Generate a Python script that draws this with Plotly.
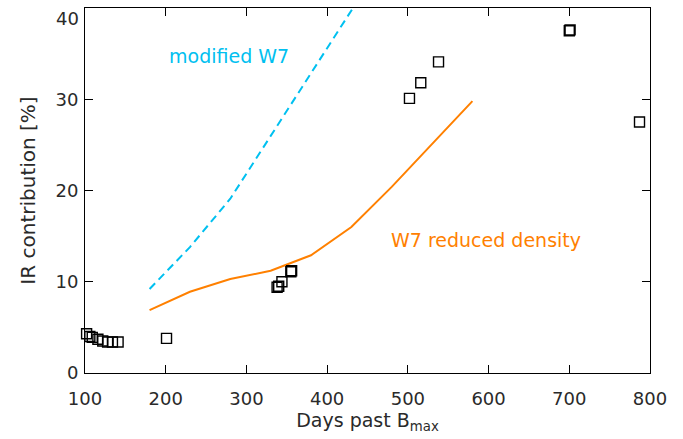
import plotly.graph_objects as go

# Observed IR contribution (squares)
obs_days = [102, 106, 109, 116, 122, 128, 134, 141, 201, 338, 340, 344, 355, 356, 502, 516, 538, 700, 701, 787]
obs_ir = [4.3, 4.0, 3.9, 3.7, 3.5, 3.4, 3.4, 3.4, 3.8, 9.4, 9.5, 10.0, 11.1, 11.2, 30.1, 31.8, 34.1, 37.5, 37.6, 27.5]

# W7 reduced density model (orange)
w7r_days = [180, 230, 280, 330, 380, 430, 480, 530, 580]
w7r_ir = [6.9, 8.9, 10.3, 11.2, 12.9, 16.0, 20.4, 25.1, 29.8]

# modified W7 model (cyan dashed)
w7m_days = [180, 230, 280, 330, 380, 432]
w7m_ir = [9.2, 13.8, 19.1, 26.0, 32.8, 40.0]

# y tick values / labels (top label is drawn just below the frame edge)
y_tickvals = [0, 10, 20, 30, 40]
y_ticktext = ["0", "10", "20", "30", ""]
y_top_label = "40"

FONT = "DejaVu Sans"
TXT = "#2a2a2a"

fig = go.Figure()
fig.add_trace(go.Scatter(x=w7m_days, y=w7m_ir, mode="lines",
                         line=dict(color="#00C0F0", width=2, dash="8px,5px"),
                         showlegend=False))
fig.add_trace(go.Scatter(x=w7r_days, y=w7r_ir, mode="lines",
                         line=dict(color="#FF8000", width=2),
                         showlegend=False))
fig.add_trace(go.Scatter(x=obs_days, y=obs_ir, mode="markers",
                         marker=dict(symbol="square-open", size=10, color="black",
                                     line=dict(width=1.4, color="black")),
                         showlegend=False, cliponaxis=False))

fig.add_annotation(x=278, y=34.7, text="modified W7", showarrow=False,
                   font=dict(family=FONT, size=19, color="#00C0F0"))
fig.add_annotation(x=477, y=14.6, text="W7 reduced density", showarrow=False,
                   xanchor="left", font=dict(family=FONT, size=19, color="#FF8000"))
fig.add_annotation(xref="paper", x=0, xshift=-4, xanchor="right",
                   y=y_tickvals[-1], yanchor="top", yshift=2,
                   text=y_top_label, showarrow=False,
                   font=dict(family=FONT, size=18, color=TXT))

axis_common = dict(showgrid=False, zeroline=False, showline=True, linecolor="black",
                   linewidth=1, mirror="ticks", ticks="inside", ticklen=8,
                   tickcolor="black", tickwidth=1,
                   automargin=False,
                   tickfont=dict(family=FONT, size=18, color=TXT))

fig.update_xaxes(range=[100, 800], dtick=100, tick0=100, ticklabelstandoff=9,
                 ticklabeloverflow="allow",
                 title=dict(text="Days past B<sub>max</sub>", standoff=4,
                            font=dict(family=FONT, size=19, color=TXT)),
                 **axis_common)
fig.update_yaxes(range=[0, 40], tickvals=y_tickvals, ticktext=y_ticktext,
                 ticklabelstandoff=2,
                 title=dict(text="IR contribution [%]", standoff=14,
                            font=dict(family=FONT, size=20, color=TXT)),
                 **axis_common)

fig.update_layout(width=683, height=439, margin=dict(l=85, r=33, t=8, b=66),
                  paper_bgcolor="white", plot_bgcolor="white",
                  font=dict(family=FONT, color=TXT))

fig.write_html("out.html")
